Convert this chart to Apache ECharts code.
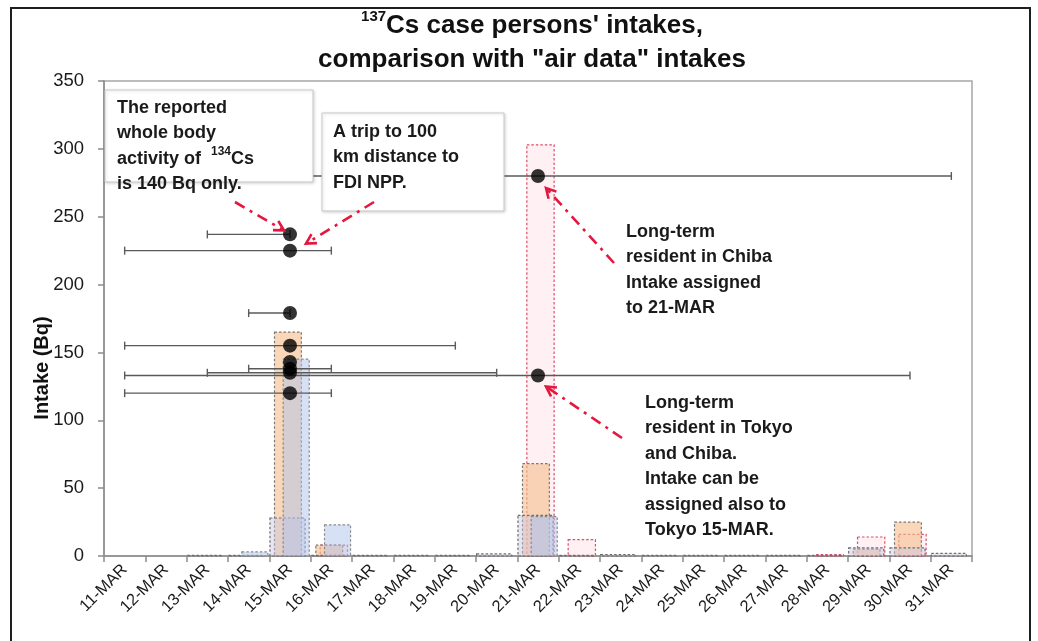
<!DOCTYPE html>
<html>
<head>
<meta charset="utf-8">
<script src="https://cdn.jsdelivr.net/npm/echarts@6/dist/echarts.min.js"></script>
<style>
  html, body { margin: 0; padding: 0; background: #fff; }
  #chart { width: 1038px; height: 641px; }
</style>
</head>
<body>
<div id="chart"></div>
<script>
// Days of March 2011
const dates = ['11-MAR', '12-MAR', '13-MAR', '14-MAR', '15-MAR', '16-MAR', '17-MAR',
  '18-MAR', '19-MAR', '20-MAR', '21-MAR', '22-MAR', '23-MAR', '24-MAR', '25-MAR',
  '26-MAR', '27-MAR', '28-MAR', '29-MAR', '30-MAR', '31-MAR'];

// "Air data" intakes (Bq) per day, one list per air-sampling series
const airPink   = [0, 0, 0, 0, 0, 8, 0, 0, 0, 0, 303, 12, 0, 0, 0, 0, 0, 1, 14, 16, 0];
const airOrange = [0, 0, 0, 0, 165, 8, 0, 0, 0, 0, 68, 0, 0, 0, 0, 0, 0, 0, 5, 25, 0];
const airGrey   = [0, 0, 0.5, 0.5, 28, 0.5, 0.5, 0.5, 0.5, 1.5, 30, 0.5, 1, 0.5, 0.5, 0.5, 0.5, 0.5, 6, 6, 2];
const airBlue   = [0, 0, 0, 3, 145, 23, 0, 0, 0, 0, 29, 0, 0, 0, 0, 0, 0, 0, 0, 0, 0];

// Case persons: assigned intake day, intake (Bq) and possible intake period
const caseDay    = ['15-MAR', '15-MAR', '15-MAR', '15-MAR', '15-MAR', '15-MAR', '15-MAR', '15-MAR', '21-MAR', '21-MAR'];
const caseIntake = [237, 225, 179, 155, 143, 138, 135, 120, 280, 133];
const periodFrom = ['13-MAR', '11-MAR', '14-MAR', '11-MAR', '15-MAR', '14-MAR', '13-MAR', '11-MAR', '11-MAR', '11-MAR'];
const periodTo   = ['15-MAR', '16-MAR', '15-MAR', '19-MAR', '15-MAR', '16-MAR', '20-MAR', '16-MAR', '31-MAR', '30-MAR'];

const yTicks = { min: 0, max: 350, step: 50 };

const FONT = '"Liberation Sans", Arial, sans-serif';

// bar drawn as a box inside the day band: shift and width are fractions of the band
function boxSeries(name, values, shift, widthFrac, fill, stroke) {
  return {
    type: 'custom',
    name: name,
    data: values.map((v, i) => [i, v]),
    encode: { x: 0, y: 1 },
    renderItem: function (params, api) {
      const v = api.value(1);
      if (!v) return null;
      const base = api.coord([api.value(0), 0]);
      const top = api.coord([api.value(0), v]);
      const band = api.size([1, 0])[0];
      const w = band * widthFrac;
      const cx = base[0] + band * shift;
      return {
        type: 'rect',
        shape: { x: cx - w / 2, y: top[1], width: w, height: base[1] - top[1] },
        style: { fill: fill, stroke: stroke, lineWidth: 1.2, lineDash: [2.5, 2] }
      };
    }
  };
}

const caseIdx = caseDay.map(d => dates.indexOf(d));
const fromIdx = periodFrom.map(d => dates.indexOf(d));
const toIdx = periodTo.map(d => dates.indexOf(d));

const option = {
  animation: false,
  backgroundColor: '#fff',
  title: {
    text: '{sup|137}Cs case persons\' intakes,\ncomparison with "air data" intakes',
    left: 527, top: 4, textAlign: 'center',
    textStyle: {
      fontFamily: FONT,
      fontWeight: 'bold', fontSize: 26, color: '#111', lineHeight: 34,
      rich: {
        sup: { fontFamily: FONT, fontWeight: 'bold', fontSize: 15, verticalAlign: 'top', padding: [0, 0, 12, 0], color: '#111' }
      }
    }
  },
  grid: { left: 104, right: 66, top: 81, bottom: 85, show: true, borderColor: '#a6a6a6', borderWidth: 1.5 },
  xAxis: {
    type: 'category',
    data: dates,
    boundaryGap: true,
    axisLine: { lineStyle: { color: '#8c8c8c', width: 1.5 } },
    axisTick: { show: true, length: 6, lineStyle: { color: '#8c8c8c', width: 1.5 } },
    axisLabel: { rotate: 45, fontSize: 16.5, fontFamily: FONT, color: '#1a1a1a', margin: 11, interval: 0 },
    splitLine: { show: false }
  },
  yAxis: {
    type: 'value',
    min: yTicks.min, max: yTicks.max, interval: yTicks.step,
    axisLine: { show: true, lineStyle: { color: '#8c8c8c', width: 1.5 } },
    axisTick: { show: true, length: 6, lineStyle: { color: '#8c8c8c', width: 1.5 } },
    axisLabel: { fontSize: 18.5, fontFamily: FONT, color: '#1a1a1a', margin: 20 },
    splitLine: { show: false }
  },
  series: [
    boxSeries('air (Chiba)', airPink, 0.06, 0.66, 'rgba(255,222,228,0.45)', '#d9506a'),
    boxSeries('air (A)', airOrange, -0.05, 0.65, 'rgba(246,190,140,0.62)', '#7a7a7a'),
    boxSeries('air (B)', airGrey, -0.06, 0.85, 'rgba(200,198,226,0.45)', '#6e6e6e'),
    boxSeries('air (C)', airBlue, 0.15, 0.63, 'rgba(176,196,236,0.5)', '#8a8a8a'),
    {
      // possible intake period of each case person
      type: 'custom',
      name: 'period',
      data: caseIntake.map((v, i) => [fromIdx[i], toIdx[i], v]),
      encode: { x: [0, 1], y: 2 },
      z: 5,
      renderItem: function (params, api) {
        const a = api.coord([api.value(0), api.value(2)]);
        const b = api.coord([api.value(1), api.value(2)]);
        const parts = [];
        const lineStyle = { stroke: '#5a5a5a', lineWidth: 1.4 };
        if (Math.abs(b[0] - a[0]) < 1) return null;
        parts.push({ type: 'line', shape: { x1: a[0], y1: a[1], x2: b[0], y2: b[1] }, style: lineStyle });
        parts.push({ type: 'line', shape: { x1: a[0], y1: a[1] - 4, x2: a[0], y2: a[1] + 4 }, style: lineStyle });
        parts.push({ type: 'line', shape: { x1: b[0], y1: b[1] - 4, x2: b[0], y2: b[1] + 4 }, style: lineStyle });
        return { type: 'group', children: parts };
      }
    },
    {
      type: 'scatter',
      name: 'case persons',
      data: caseIntake.map((v, i) => [caseIdx[i], v]),
      symbol: 'circle',
      symbolSize: 14,
      itemStyle: { color: '#000' },
      z: 6
    }
  ]
};

const chart = echarts.init(document.getElementById('chart'));
chart.setOption(option);

// --- annotations ---
const RED = '#e5173f';
function px(day, value) {
  return chart.convertToPixel({ gridIndex: 0 }, [dates.indexOf(day), value]);
}
function arrow(from, tip) {
  const ang = Math.atan2(tip[1] - from[1], tip[0] - from[0]);
  const L = 11, spread = 0.5;
  const h1 = [tip[0] - L * Math.cos(ang - spread), tip[1] - L * Math.sin(ang - spread)];
  const h2 = [tip[0] - L * Math.cos(ang + spread), tip[1] - L * Math.sin(ang + spread)];
  return [
    { type: 'polyline', z: 100, shape: { points: [from, tip] },
      style: { stroke: RED, lineWidth: 2.6, lineDash: [11, 6, 3, 6], fill: null } },
    { type: 'polyline', z: 100, shape: { points: [h1, tip, h2] },
      style: { stroke: RED, lineWidth: 2.6, fill: null } }
  ];
}
const noteFont = 'bold 18px "Liberation Sans", Arial, sans-serif';
function note(x, y, text, rich) {
  return { type: 'text', z: 101, left: x, top: y,
    style: { text: text, font: noteFont, fill: '#1a1a1a', lineHeight: 25.5, rich: rich || {} } };
}

const p237 = px('15-MAR', 237), p225 = px('15-MAR', 225);
const p280 = px('21-MAR', 280), p133 = px('21-MAR', 133);

const graphic = [
  // outer frame
  { type: 'rect', z: 0, silent: true, shape: { x: 11, y: 8, width: 1019, height: 660 },
    style: { fill: null, stroke: '#1e1e1e', lineWidth: 2 } },
  // value axis title
  { type: 'text', z: 50, x: 42, y: 368, rotation: Math.PI / 2,
    style: { text: 'Intake (Bq)', font: 'bold 20px "Liberation Sans", Arial, sans-serif', fill: '#111', align: 'center', verticalAlign: 'middle' } },
  // boxed notes
  { type: 'rect', z: 99, shape: { x: 105, y: 90, width: 208, height: 92 },
    style: { fill: '#fff', stroke: '#c9c9c9', lineWidth: 1, shadowBlur: 3, shadowColor: 'rgba(0,0,0,0.15)', shadowOffsetX: 1, shadowOffsetY: 1 } },
  note(117, 95, 'The reported\nwhole body\nactivity of  {sup|134}Cs\nis 140 Bq only.', {
    sup: { font: 'bold 12px "Liberation Sans", Arial, sans-serif', fill: '#1a1a1a', verticalAlign: 'top', padding: [0, 0, 8, 0] }
  }),
  { type: 'rect', z: 99, shape: { x: 322, y: 113, width: 182, height: 98 },
    style: { fill: '#fff', stroke: '#c9c9c9', lineWidth: 1, shadowBlur: 3, shadowColor: 'rgba(0,0,0,0.15)', shadowOffsetX: 1, shadowOffsetY: 1 } },
  note(333, 119, 'A trip to 100\nkm distance to\nFDI NPP.'),
  note(626, 219, 'Long-term\nresident in Chiba\nIntake assigned\nto 21-MAR'),
  note(645, 390, 'Long-term\nresident in Tokyo\nand Chiba.\nIntake can be\nassigned also to\nTokyo 15-MAR.')
]
  .concat(arrow([235, 202], [p237[0] - 6, p237[1] - 4]))
  .concat(arrow([374, 202], [p225[0] + 16, p225[1] - 7]))
  .concat(arrow([614, 263], [p280[0] + 8, p280[1] + 12]))
  .concat(arrow([622, 438], [p133[0] + 8, p133[1] + 11]));

chart.setOption({ graphic: graphic });
</script>
</body>
</html>
